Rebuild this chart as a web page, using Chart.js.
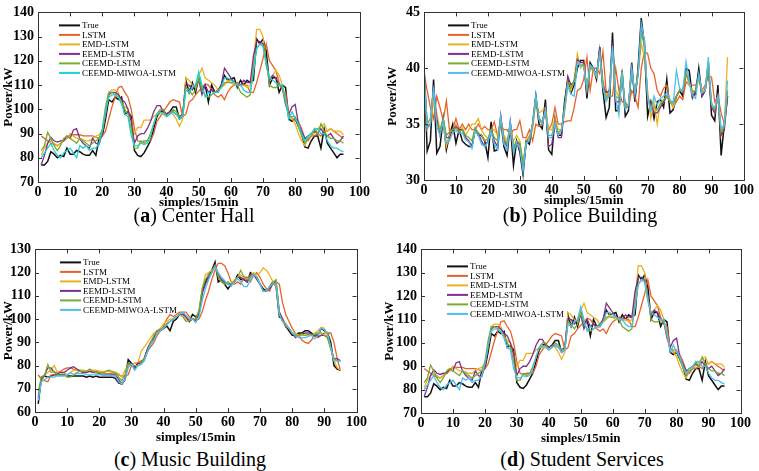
<!DOCTYPE html>
<html>
<head>
<meta charset="utf-8">
<script src="https://cdn.jsdelivr.net/npm/chart.js@4"></script>
<style>
  body { margin: 0; background: #fff; width: 759px; height: 471px; position: relative; overflow: hidden; }
  canvas { position: absolute; }
  .cap { position: absolute; font-family: "Liberation Serif", serif; font-size: 20px; line-height: 1; color: #000; transform: translateX(-50%); white-space: nowrap; }
</style>
</head>
<body>
<canvas id="c1" width="372" height="210" style="left:0px;top:0px"></canvas>
<canvas id="c2" width="372" height="208" style="left:384px;top:0px"></canvas>
<canvas id="c3" width="369" height="208" style="left:0px;top:237px"></canvas>
<canvas id="c4" width="372" height="209" style="left:381px;top:237px"></canvas>
<div class="cap" style="left:194px;top:205px">(<b>a</b>) Center Hall</div>
<div class="cap" style="left:580px;top:205px">(<b>b</b>) Police Building</div>
<div class="cap" style="left:190px;top:449px">(<b>c</b>) Music Building</div>
<div class="cap" style="left:582px;top:449px">(<b>d</b>) Student Services</div>
<script>
// series names (legend order)
const names = ["True", "LSTM", "EMD-LSTM", "EEMD-LSTM", "CEEMD-LSTM", "CEEMD-MIWOA-LSTM"];

// Center Hall, samples 1..95
const hallTrue = [77,77,78.5,82.5,81.5,80,81,80.5,84,81.5,
  81.5,83,82.5,81.5,81,81,83,81,88,89,
  96,104,103,105,104,105,98,99,97,83,
  81,80.5,82,84.5,87,92,97,99,99.5,98,
  99,101,101,96,97,112,107,111,107,113,
  108,110,103,110,107,107,110,114,112,112.5,
  113,109,112,110,112,111,112,129,127,129,
  124,110,113,113,107,110,109,96,95,96,
  93,90,84.5,84,87,89,89,84,92,86,
  84,82,80,81.5,81.5];
const hallLstm = [89,88,87,86,85.5,85,86,87,88,89.5,
  89.5,89.5,89.5,89,89,89,89,88.5,88,89,
  91,96,101,105,109,109.5,107,105,100,92,
  87,86.5,87,87,87,90,95,97,99,101,
  103,104,103.5,103,97,98,103,104,106,107.5,
  109,110.5,110,108,106,105,106,104,107,109,
  110,111,110,110,110,107,107,111,116,121,
  127,120,118,116,111,108,107,98,96,96,
  95,92,88,87,89,89,90,89,91,91,
  92,91,90,89,88];
const hallEmd = [81,84,86,87,86,85,86,87,88,90,
  89,88,88,87.5,87,87,88,89,89.5,91,
  98,107,108,108,107,103,101,100,95,90,
  92.5,92.5,95.5,95.5,95.5,97,98,98,98,98,
  99,98,96,93,96,113,112,110,109,114,
  117,113,112,111,110,108,109,110,112,111,
  110,110,110,110,109,110,119,133,133,130,
  118,113,114,116,114,110,104,97,96,94,
  90,87,85,88,89,90,92,93,94,91,
  92,91,91,91,89.5];
const hallEemd = [77,81,86,88.5,87,86.5,87,87,89,88,
  91.5,92,88,86,85,84,88,86,85.5,90,
  99,106,107,107,106,104,103,100,95,86,
  89,90,90,92,95,99,101.5,101.5,99,98,
  99,99,98,97,98,110,110,108,110,112,
  106,110,107,108,107,108,110,117,115,113,
  111,110,110,112,111,111,122,128,128,127,
  120,112,114,113,110,109,102,98,101,102,
  94,91,88,89,90,91,90,92,90,89,
  90,88,86,87,89];
const hallCeemd = [83,85,90.5,88,85,83,85,88,89,88,
  87,86,88,87,86,85,86,87,88,92,
  101,107,107,106,105,103,100,98,92,84,
  84,87,86,87,90,94,98,100,100,97,
  98,100,99,97,97,109,108,106,108,113,
  108,106,105,106,107,108,109,111,111,111,
  111,110,107,106,105,106,117,125,127,126,
  120,110,109,109,110,109,103,97,97,97,
  93,89,86,88,89,92,90,94,91,89,
  88,88,87,87,86];
const hallMiwoa = [80,82,84,86,83,81,80,82,83,84,
  82,80,85,84,85,83,84,84,86,91,
  99,105,106,106,105,102,98,97,89,85,
  85,86,85.5,86,89,94,98,99,98,97,
  98,99,98,96,97,108,107,109,110,115.5,
  110,105,107,106,107,107,109,113,113,112,
  111,110,110,108,107,107,115,125,127,126,
  118,113,112,111,110,110,104,96,99,96,
  94,90,87,89,90,92,92,90,90,87,
  85,84,84,83,82.5];

// Police Building, samples 0..95
const policeTrue = [40.2,32.6,33.5,39,32.4,33,35.5,32.7,34,35,
  33.3,34.5,33.5,33.2,33,33,34.5,34,34,33.5,
  32,35.2,32.6,32.7,35.5,33,32.2,35,31.3,33.5,
  32.5,30.5,33.5,33.2,35,37.5,35,34.6,37.2,32.7,
  32.3,35.5,34,34,37,39,37.8,38.5,40,40.7,
  40.7,37.3,40.5,40,39,41.9,38,35.6,36.5,43.2,
  36.2,36.2,39.8,35.7,36.2,40.5,37,40,44.5,42,
  35.7,37,35.5,37,37.2,36.5,39,36,36.3,37.5,
  38,37.5,40,39.8,37.5,37.7,40,37.5,38,40.5,
  35.8,35.3,38.5,32.2,35,37.5];
const policeLstm = [39.5,38,36.5,35.5,37.5,36.5,35.3,37.1,34.4,34.5,
  35.5,34.5,35,34.5,35,34.5,34.5,35,34.5,34.8,
  34.5,34.5,35.2,34,35,34.5,34.5,34,34.5,34.5,
  35.3,33.8,33.8,34.5,33.5,35,34.8,35,36,34.5,
  35,36.5,35,35,35.2,35.3,35.3,36.5,38,38.2,
  39,41,38,40,40,39.5,41.5,38,37.5,37.5,
  40,38,37,37,36.5,38,37.5,36.5,40,41.5,
  41.3,40,39.5,38,37.5,38.2,38.5,37,36.5,37,
  37.5,37.2,38.8,38.5,38.5,38.5,39,38,38.5,39.3,
  39.2,37,37.5,36,35,38];
const policeEmd = [39.5,34.5,35,37,36,34.5,35,33,34,34.5,
  35,34.5,34.7,34,34.5,35,35,35.5,34.5,34,
  33.7,34.5,34.5,34,35.5,34,33.5,34.5,33.5,34,
  33.5,31.5,33.5,34,34.5,37,36,36.2,36.5,34.5,
  34.5,35.5,34.5,34.5,36,38.5,38,39,41.3,40,
  40.5,38,40,39.8,39.2,41.5,39,37.5,38,41.5,
  38,37.5,39.5,36.5,36.8,39.5,38,39.5,42.2,41,
  38,35.5,37,35,37,37,37.5,37,36.5,37.5,
  38,38,39.5,38.5,38,38,39,38,38,40,
  37,36,37.5,34,35,41];
const policeEemd = [40.3,34.8,35,38.5,35.5,34,35.5,33.8,33.8,34.5,
  34.8,34.5,34.5,33.8,33.5,33,34.5,34.2,33.5,33,
  33.5,34.5,33.5,33,35.8,33.5,33,35.3,32.7,33.5,
  33.2,31,33.5,33.5,35,37.5,35.5,35,36.5,33,
  33.2,35.2,33.8,33.8,36.5,39.3,38.5,38.8,40.8,40.5,
  40.5,38,40.3,40,39.5,41.7,38.5,37.8,38,42.3,
  37,37,39.5,36.5,36.5,40,37.5,39.5,43.5,42.5,
  37,37,36,36,36.5,37,37.5,37,37,37.5,
  38,38,39.5,39,37.3,38,39.5,37.5,38,40,
  36.5,36,37.5,34,34.5,37.5];
const policeCeemd = [39.5,35,35.5,38,35,34.5,35.5,34,34.3,34.5,
  34.6,34.3,34.5,34,33.8,33.5,34.7,34.2,34,33.5,
  33.7,34.5,33.8,33.5,35.5,33.8,33.2,35,33,33.5,
  33.3,31.5,33.5,33.8,35,37.3,35.5,35.2,36.3,34,
  34,35.2,34.2,34.5,36.5,38.8,38.3,38.8,40.5,40.3,
  40.3,38.2,40.2,39.8,39.5,41.3,38.5,37.3,37.8,41.8,
  37.5,37.3,39.8,36.5,36.8,39.8,37.8,39.5,43.2,42,
  37.5,36.5,36.5,36.3,36.8,37.2,37.5,37,36.8,37.5,
  38,38,39.5,38.8,37.8,38,39.3,37.8,38,40,
  36.8,36.3,37.3,34.3,34.8,38];
const policeMiwoa = [39.3,34.6,35,38.3,34.8,34,35.2,33.3,33.5,34.3,
  34.4,34.2,34.2,33.6,33.4,32.8,34.4,34,33.2,33,
  33.4,34.3,33.2,32.7,35.7,33.2,32.7,35.2,32.5,33.3,
  32.8,30.8,33.3,33.5,35,37.6,35.4,35,36.2,33.8,
  33.8,35,34,34.4,36.3,38.4,37.7,37.5,40.5,40.2,
  40.2,38.2,40.3,40,39.3,41.3,38.3,37,37.6,42,
  37.3,35.8,39.6,36.3,36.7,40,37.7,39.3,44,42.5,
  37.3,36.2,37.5,36.7,37.3,37.5,37.8,37.2,36.8,39.8,
  38.2,38,40.6,38.8,37.6,37.3,39.5,37.8,38,41,
  36.7,36.5,37.5,34.6,35,38.9];

// Music Building, samples 1..95
const musicTrue = [63.5,75,75.5,75,75.5,76,76,76,76,75.5,
  75.5,75.5,75.5,75.5,75.5,75,75.5,75,75.5,75,
  75,75,75,75,74.5,72.5,72,74,82.5,81,
  79,81,81,83,87,90,92,95,95,96,
  97,95,99,100,102,102.5,101,99,102,101,
  102,112,116,119,121,124.5,116,117,115,113,
  115,116,119,117,117,116,120,119,118,115,
  113,112,114,116,114,101,100,97,95,93,
  93,94,94,95,95,94,93,93,96,95,
  94,90,80,78.5,78];
const musicLstm = [76,74,73.5,73,76,76,77,77.5,78.5,79,
  79,78.5,78,78,77.5,77.5,77.5,77.5,77.5,77.5,
  77,76.5,76.5,76.5,76.5,76,75.5,75.5,76,80,
  81,81,82,82.5,86,88,90,93,95,97,
  100,102,101,102,103,103,103,101,100,99.5,
  100,103,108,112,117,121,124,124,123,120,
  116,115,116,115,118,118,116,119,120,118,
  115,113,112,116,116,115,107,102,99,96,
  94,93,91,90,89.5,91,93,92,93,94,
  94,94,90,83,78];
const musicEmd = [67,73,76,77,78,80,77,77,77,76,
  77,78,78,78,78,77.5,78,78,78,77.5,
  77.5,77.5,77.5,77,77,76.5,75,78,80,80,
  81,81,86,88,90,92,94,95,96,98,
  99,100,100,101,102,102,100,99,100,100,
  102,113,119,120,121,123,120,116,116,115,
  115,117,118,119,118,117,119,120,119,120,
  122,121,119,116,114,103,100,98,96,94,
  94,93,93,93,93,93,94,95,96.5,96,
  92,87,82,79,78];
const musicEemd = [66,74,76,79,79,77,76.5,77,77,78,
  79,79.5,78.5,77.5,77,77,77.5,77,77,76.5,
  76,76,76,76,76,74,72,74,81,80.5,
  79,81,81,83,87,90,92,95,95.5,96,
  98,99,100,101,102,102,101,99,100,99.5,
  102,111,115,118,120,123.5,119,117,116,115,
  115,116,118,118,117,116,119,119,117,115,
  112,112,113,115,116,103,100,96.5,96,94,
  92,93,93.5,94,94,93.5,93,92.5,93,93,
  92,88,83,83,82];
const musicCeemd = [69,75,76,80.5,77,77.5,76,76,76,75,
  75,76,77,77.5,77.5,77.5,78.5,77.5,77,77,
  76.5,77.5,78,77.5,77,75,73.5,76,81,80,
  80,80,81,83,86,90,93,95,95.5,96,
  98,99,100,101,102,101,99,99.5,100,100,
  104,113,117,119,120,123,118,116,115,116,
  115,116,118,121,118,117,118,119,118,115,
  112,112,114,116,117,102,99,97,96,94,
  93,93,93.5,93,93.5,93,93.5,94,94,93,
  92,87,83,82,82];
const musicMiwoa = [65,73,74,75,75,75,75.5,75.5,75.5,76,
  77,76,76.5,76.5,76.5,76,76,76,76,76,
  76,76,76,75.5,75.5,73,72,74,79,80.5,
  78,80,80.5,82,86,89,91,94,95,96,
  97.5,99,100,101,102,103,101.5,100,100,98.5,
  101,108,113,117,120,122.5,120,118,116.5,115,
  114,116,117.5,116,114,114,117,119.5,118,115,
  112,112,114,115,115.5,102,99,98,96,94,
  93,92,92,92,92.5,93,91.5,93,96,95.5,
  94,88,82,82,82];

// Student Services plots the same curves as Center Hall in the figure
const studentTrue = hallTrue, studentLstm = hallLstm, studentEmd = hallEmd;
const studentEemd = hallEemd, studentCeemd = hallCeemd, studentMiwoa = hallMiwoa;

const xTicks = [0, 10, 20, 30, 40, 50, 60, 70, 80, 90, 100];
const serif = '"Liberation Serif", "Times New Roman", serif';

// box + inward ticks + legend drawn inside the plot, matlab style
const boxPlugin = {
  id: 'box',
  afterDraw(chart) {
    const ctx = chart.ctx;
    const a = chart.chartArea;
    const xs = chart.scales.x, ys = chart.scales.y;
    ctx.save();
    ctx.strokeStyle = '#333';
    ctx.lineWidth = 1;
    ctx.strokeRect(Math.round(a.left) + 0.5, Math.round(a.top) + 0.5, Math.round(a.right - a.left), Math.round(a.bottom - a.top));
    ctx.beginPath();
    xs.ticks.forEach(t => {
      const px = Math.round(xs.getPixelForValue(t.value)) + 0.5;
      ctx.moveTo(px, a.bottom); ctx.lineTo(px, a.bottom - 4);
      ctx.moveTo(px, a.top); ctx.lineTo(px, a.top + 4);
    });
    ys.ticks.forEach(t => {
      const py = Math.round(ys.getPixelForValue(t.value)) + 0.5;
      ctx.moveTo(a.left, py); ctx.lineTo(a.left + 4, py);
      ctx.moveTo(a.right, py); ctx.lineTo(a.right - 4, py);
    });
    ctx.stroke();

    const lg = chart.options.plugins.box;
    ctx.font = '9px ' + serif;
    ctx.textBaseline = 'middle';
    ctx.fillStyle = '#000';
    chart.data.datasets.forEach((ds, i) => {
      const y = a.top + lg.dy + i * 9.5;
      ctx.strokeStyle = ds.borderColor;
      ctx.lineWidth = 2;
      ctx.beginPath();
      ctx.moveTo(a.left + lg.dx, y);
      ctx.lineTo(a.left + lg.dx + 21, y);
      ctx.stroke();
      ctx.fillText(ds.label, a.left + lg.dx + 23, y + 0.5);
    });
    ctx.restore();
  }
};

function makePanel(id, x0, series, colors, yMin, yMax, yStep, yw, xh, padTop, lg) {
  const datasets = series.map((ys, i) => ({
    label: names[i],
    data: ys.map((v, k) => ({ x: x0 + k, y: v })),
    borderColor: colors[i],
    borderWidth: i === 0 ? 1.5 : 1.3,
    pointRadius: 0,
    tension: 0,
    order: 10 - i
  }));
  new Chart(document.getElementById(id), {
    type: 'line',
    data: { datasets: datasets },
    options: {
      responsive: false,
      animation: false,
      devicePixelRatio: 1,
      layout: { padding: { top: padTop, right: 10, left: 0, bottom: 0 } },
      plugins: { legend: { display: false }, tooltip: { enabled: false }, box: lg },
      scales: {
        x: {
          type: 'linear', min: 0, max: 100,
          afterBuildTicks: s => { s.ticks = xTicks.map(v => ({ value: v })); },
          afterFit: s => { s.height = xh; },
          grid: { display: false, drawTicks: false },
          border: { display: false },
          ticks: { color: '#000', padding: 2, font: { family: serif, size: 14, weight: 'bold' } },
          title: { display: true, text: 'simples/15min', color: '#000', padding: { top: 0, bottom: 0 }, font: { family: serif, size: 13, weight: 'bold' } }
        },
        y: {
          min: yMin, max: yMax,
          afterFit: s => { s.width = yw; },
          grid: { display: false, drawTicks: false },
          border: { display: false },
          ticks: { stepSize: yStep, color: '#000', padding: 4, font: { family: serif, size: 14, weight: 'bold' } },
          title: { display: true, text: 'Power/kW', color: '#000', padding: { top: 1, bottom: 0 }, font: { family: serif, size: 13, weight: 'bold' } }
        }
      }
    },
    plugins: [boxPlugin]
  });
}

const colorsA = ['#111111', '#E4632B', '#EDB120', '#7E2F8E', '#77AC30', '#1CD2D8'];
const colorsB = ['#111111', '#E4632B', '#EDB120', '#7E2F8E', '#77AC30', '#4DBEEE'];

makePanel('c1', 1, [hallTrue, hallLstm, hallEmd, hallEemd, hallCeemd, hallMiwoa], colorsA, 70, 140, 10, 38, 28, 8, { dx: 21, dy: 13 });
makePanel('c2', 0, [policeTrue, policeLstm, policeEmd, policeEemd, policeCeemd, policeMiwoa], colorsB, 30, 45, 5, 40, 28, 10, { dx: 24, dy: 13 });
makePanel('c3', 1, [musicTrue, musicLstm, musicEmd, musicEemd, musicCeemd, musicMiwoa], colorsB, 60, 130, 10, 35, 33, 8, { dx: 25, dy: 13 });
makePanel('c4', 1, [studentTrue, studentLstm, studentEmd, studentEemd, studentCeemd, studentMiwoa], colorsB, 70, 140, 10, 40, 33, 8, { dx: 26, dy: 17 });
</script>
</body>
</html>
